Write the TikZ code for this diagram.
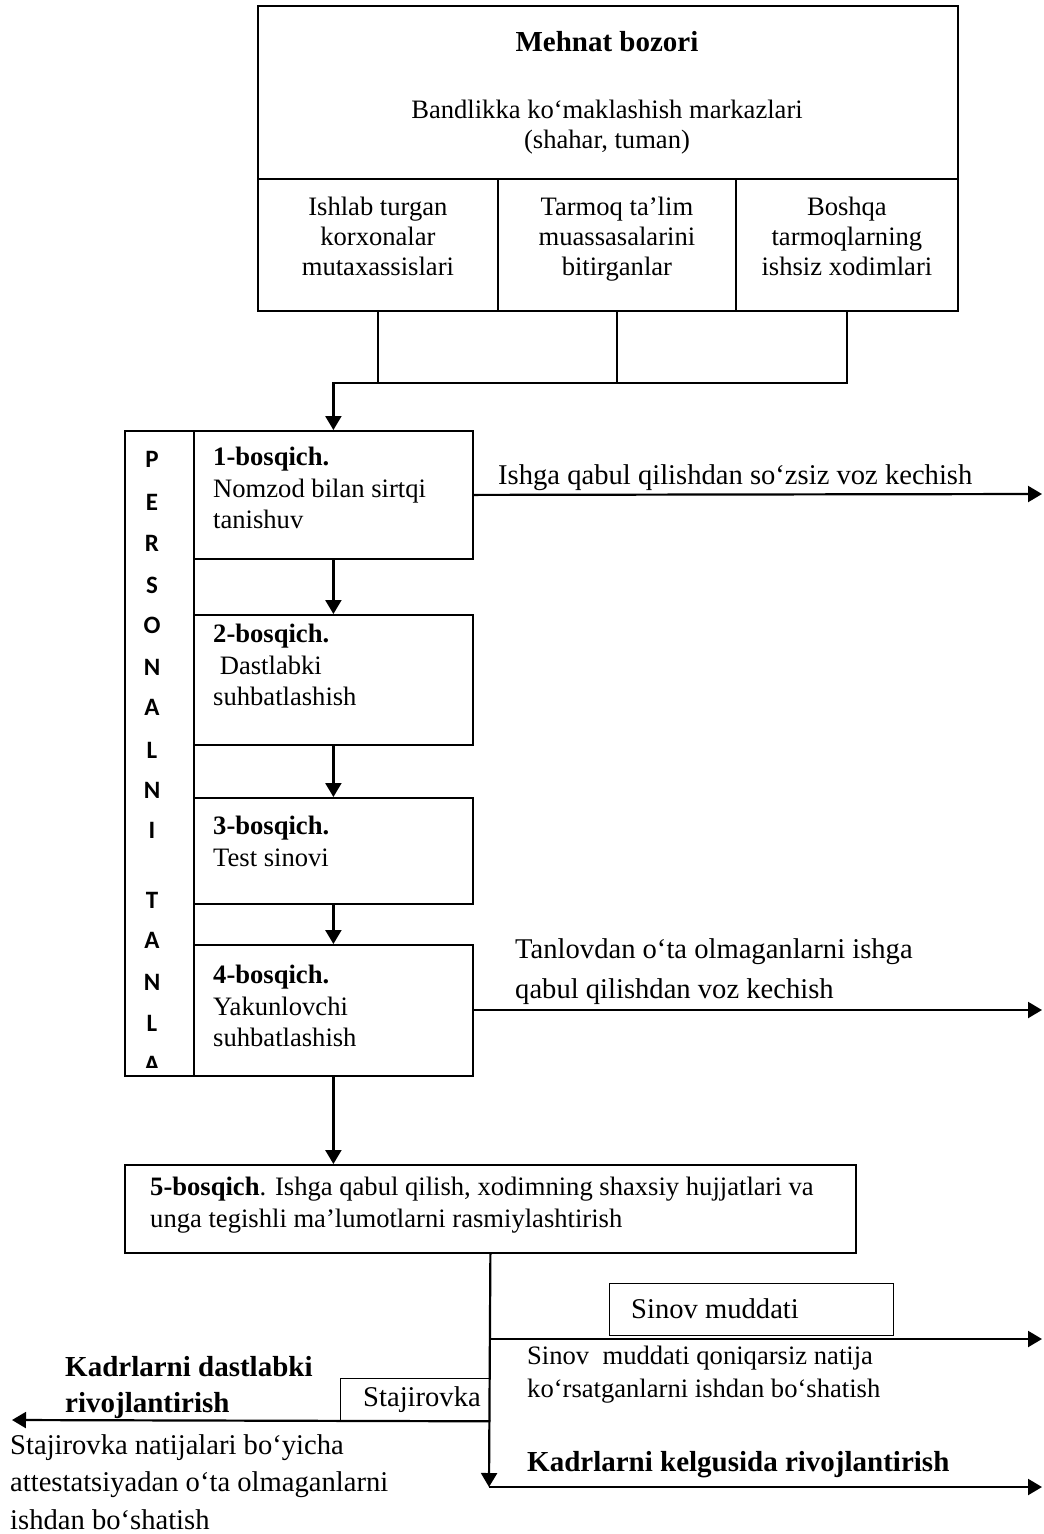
\documentclass[tikz,border=0pt]{standalone}
\usepackage{fontspec}
\setmainfont{Liberation Serif}
\newfontfamily\colfont{Carlito}[BoldFont={Carlito Bold}]
\usetikzlibrary{arrows.meta, positioning}
\tikzset{
  box/.style={draw, line width=1.8pt, inner sep=0pt, anchor=north west},
  thinbox/.style={draw, line width=1.3pt, inner sep=0pt, anchor=north west},
  txt/.style={inner sep=0pt, anchor=north west, align=left, font=\fontsize{26.6}{31.5}\selectfont},
  celltxt/.style={inner sep=0pt, anchor=north, align=center, font=\fontsize{26.6}{30}\selectfont},
  side/.style={inner sep=0pt, anchor=north west, align=left, font=\fontsize{28.6}{40}\selectfont},
  letter/.style={inner sep=0pt, font=\colfont\fontsize{25}{25}\bfseries\selectfont},
  arr/.style={line width=2.2pt, -{Triangle[length=14pt, width=16pt]}},
  link/.style={line width=1.8pt},
}
\begin{document}
\begin{tikzpicture}[x=1pt, y=-1pt]
  \useasboundingbox (0,0) rectangle (1044,1534);

  % labour market
  \node[box, minimum width=700pt, minimum height=173pt] (bozor) at (257,5) {};
  \node[inner sep=0pt, font=\fontsize{29}{30}\selectfont\bfseries] (bozorT) at (607,42) {Mehnat bozori};
  \node[celltxt] (markaz) at (607,100) {Bandlikka ko‘maklashish markazlari\\(shahar, tuman)};
  \node[box, minimum width=240pt, minimum height=132pt] (cell1) at (257,178) {};
  \node[box, minimum width=238pt, minimum height=132pt] (cell2) at (497,178) {};
  \node[box, minimum width=222pt, minimum height=132pt] (cell3) at (735,178) {};
  \node[celltxt] (cell1T) at ([yshift=-19pt]cell1.north) {Ishlab turgan\\korxonalar\\mutaxassislari};
  \node[celltxt] (cell2T) at ([yshift=-19pt]cell2.north) {Tarmoq ta’lim\\muassasalarini\\bitirganlar};
  \node[celltxt] (cell3T) at ([yshift=-19pt]cell3.north) {Boshqa\\tarmoqlarning\\ishsiz xodimlari};

  % selection stages
  \node[box, minimum width=69pt, minimum height=645pt] (pers) at (124,430) {};
  \node[box, minimum width=279pt, minimum height=128pt] (s1) at (193,430) {};
  \node[box, minimum width=279pt, minimum height=130pt] (s2) at (193,614) {};
  \node[box, minimum width=279pt, minimum height=106pt] (s3) at (193,797) {};
  \node[box, minimum width=279pt, minimum height=131pt] (s4) at (193,944) {};
  \node[txt] (s1T) at (213,447) {\textbf{1-bosqich.}\\Nomzod bilan sirtqi\\tanishuv};
  \node[txt] (s2T) at (213,624) {\textbf{2-bosqich.}\\\hspace{0.25em}Dastlabki\\suhbatlashish};
  \node[txt] (s3T) at (213,816) {\textbf{3-bosqich.}\\Test sinovi};
  \node[txt] (s4T) at (213,965) {\textbf{4-bosqich.}\\Yakunlovchi\\suhbatlashish};

  \begin{scope}
    \clip (124,430) rectangle (193,1067);
    \foreach \l/\y [count=\i] in {P/459, E/502, R/543, S/585, O/625, N/667, A/707,
        L/750, N/790, I/830, T/900, A/940, N/982, L/1023, A/1064}
      \node[letter] (let\i) at (152,\y) {\l};
  \end{scope}

  \node[box, minimum width=731pt, minimum height=88pt] (s5) at (124,1164) {};
  \node[txt] (s5T) at (150,1177) {\textbf{5-bosqich}. Ishga qabul qilish, xodimning shaxsiy hujjatlari va\\unga tegishli ma’lumotlarni rasmiylashtirish};

  % connectors from the market
  \coordinate (join) at (332,383);
  \draw[link] (cell1.south) -- (cell1.south |- join);
  \draw[link] (cell2.south) -- (cell2.south |- join);
  \draw[arr] (cell3.south) |- (s1.north |- join) -- (s1.north);
  \draw[arr] (s1.south) -- (s2.north);
  \draw[arr] (s2.south) -- (s3.north);
  \draw[arr] (s3.south) -- (s4.north);
  \draw[arr] (s4.south) -- (s4.south |- s5.north);

  % refusals
  \coordinate (out1) at (1042,494);
  \coordinate (out4) at (1042,1010);
  \draw[arr] (s1.east) -- (out1);
  \draw[arr] (s4.east |- out4) -- (out4);
  \node[side, anchor=west] (refuse1) at (498,478) {Ishga qabul qilishdan so‘zsiz voz kechish};
  \node[side] (refuse4) at (515,938) {Tanlovdan o‘ta olmaganlarni ishga\\qabul qilishdan voz kechish};

  % after hiring
  \node[thinbox, minimum width=284pt, minimum height=52pt] (sinov) at (609,1283) {};
  \node[side, anchor=west] (sinovT) at (631,1309) {Sinov muddati};
  \node[thinbox, minimum width=149pt, minimum height=42pt] (stj) at (340,1378) {};
  \node[side, anchor=west] (stjT) at (363,1400) {Stajirovka};
  \coordinate (kelg) at (489,1487);
  \coordinate (sinL) at (489,1339);
  \coordinate (out5) at (1042,1487);
  \coordinate (out6) at (1042,1339);
  \coordinate (out7) at (12,1420);
  \draw[arr] (s5.south) -- (kelg);
  \draw[arr] (kelg) -- (out5);
  \draw[arr] (sinL) -- (out6);
  \draw[arr] (stj.south east) -- (out7);

  \node[txt, font=\fontsize{26.6}{33}\selectfont] (sinovN) at (527,1346) {Sinov\ \ muddati qoniqarsiz natija\\ko‘rsatganlarni ishdan bo‘shatish};
  \node[side, anchor=west, font=\fontsize{29}{36}\selectfont\bfseries] (kelgT) at (527,1465) {Kadrlarni kelgusida rivojlantirish};
  \node[side, font=\fontsize{29}{36}\selectfont\bfseries] (dastT) at (65,1356) {Kadrlarni dastlabki\\rivojlantirish};
  \node[side, font=\fontsize{28.6}{37.5}\selectfont] (stjN) at (10,1434) {Stajirovka natijalari bo‘yicha\\attestatsiyadan o‘ta olmaganlarni\\ishdan bo‘shatish};
\end{tikzpicture}
\end{document}
